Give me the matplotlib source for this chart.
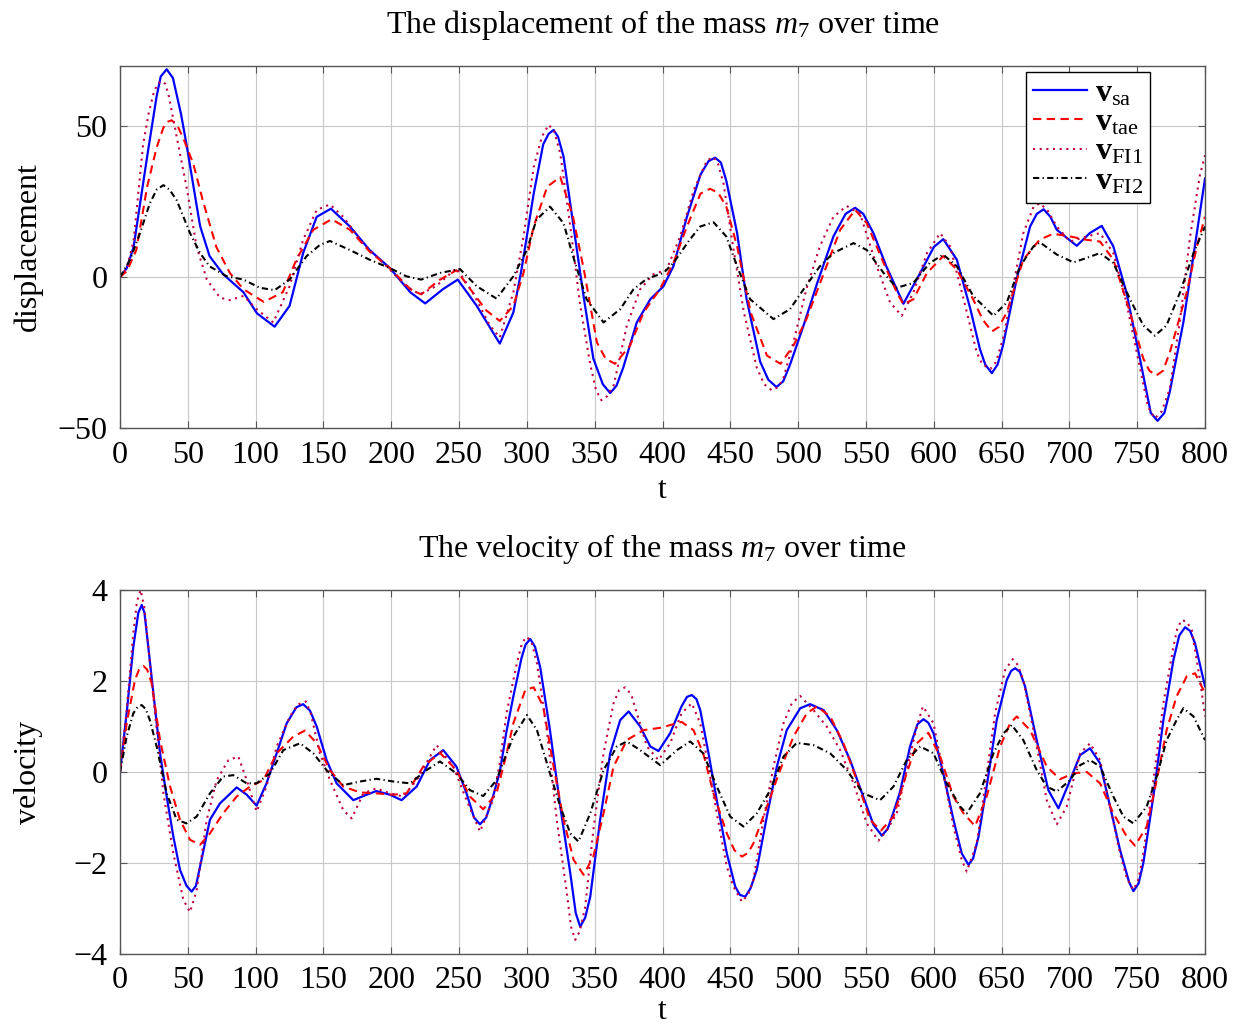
import numpy as np
import matplotlib
matplotlib.use("Agg")
import matplotlib.pyplot as plt

plt.rcParams['font.family'] = ['Liberation Serif', 'DejaVu Serif']
plt.rcParams['mathtext.fontset'] = 'custom'
plt.rcParams['mathtext.rm'] = 'Liberation Serif'
plt.rcParams['mathtext.it'] = 'Liberation Serif:italic'
plt.rcParams['mathtext.bf'] = 'Liberation Serif:bold'

# displacement of m7, (t, value)
disp_sa = [(0, 0), (5, 3), (10, 10), (20, 40), (27, 60), (30, 66.5), (34.4, 68.9), (39, 66), (45, 54), (49, 44),
           (59, 17), (66, 7), (76, 1), (91, -5), (101, -12), (114, -16.4), (125, -9.5), (135, 8), (145, 20),
           (155.5, 22.7), (169.5, 16.8), (184, 9), (199, 3), (214, -5), (225, -8.7), (238, -4), (249, -0.8),
           (263, -9.5), (280, -22), (290, -11.7), (296, 2.5), (305, 27.7), (312, 44), (316, 47.5), (319.7, 48.8),
           (323, 46.5), (327, 40), (334, 18), (342, -7), (349, -27), (356, -35.5), (361.4, -38.4), (366, -36),
           (371, -30), (381, -15), (391, -7.3), (400.7, -3), (408, 3.6), (418, 20), (428, 34), (434, 38.5),
           (438.8, 39.6), (443, 38), (447, 32), (455, 14.6), (462, -7.3), (472, -28), (478, -34), (484, -36.4),
           (489, -34.5), (494, -29), (504, -16), (514, -2), (526, 13.5), (535, 21), (542, 23), (548, 21),
           (555.5, 14.6), (565, 3.6), (577.6, -8.8), (590, 1.4), (600, 10), (607, 12.6), (617, 5.8), (627, -10.6),
           (634, -23.8), (638, -29), (642.8, -31.8), (647, -29), (651, -22.7), (661, -0.8), (671, 16.8),
           (676, 21), (681, 22.5), (686, 20), (690.7, 15.7), (705.4, 10.4), (715, 14.6), (723.8, 17), (732.4, 10.2),
           (742, -5), (752, -27), (760, -45), (765, -47.6), (770, -45), (774, -38), (784, -15), (791, 5.8),
           (800, 32.7)]
disp_tae = [(0, 0), (5, 2), (12, 9), (20, 30), (27, 43), (32, 49.6), (35, 51.5), (38, 52), (42, 50.5), (46.7, 46),
            (54, 37.6), (61, 25.5), (71, 10), (81, 1.4), (91, -4), (106, -8.2), (120, -5), (130, 5.8),
            (142.5, 15.7), (156, 19.2), (169.5, 15.7), (184, 8.5), (199, 3), (214, -4), (222, -5.7), (236, -0.8),
            (248, 2.3), (260, -5), (270, -11), (280, -14.5), (290, -9.5), (297.5, 1.4), (305, 16.8), (315, 30),
            (324.6, 33.2), (334, 20), (342, 2.5), (351.6, -21.6), (358, -27), (365, -28.7), (376, -22.7),
            (386, -11.7), (398, -4), (408, 4.7), (418, 16.8), (428, 27.7), (435, 29.3), (441, 28), (447, 23.4),
            (455, 10.2), (465, -11.7), (477, -26), (487, -28.7), (496.5, -22.7), (506, -14), (519, 1.4),
            (531, 15.7), (542, 22.3), (550.6, 17.9), (563, 4.7), (572.7, -5), (577.6, -9), (585, -7.3), (595, 1.4),
            (607, 7), (617, 2.5), (629, -7.3), (636, -14), (642.8, -18), (648, -16.5), (653.8, -11.7), (666, 5.8),
            (678, 12.4), (688, 14.4), (700.5, 13.5), (712.5, 12.4), (722.6, 11.8), (732.4, 5.8), (744.7, -11.7),
            (754.5, -27), (759, -31), (764, -32.6), (769, -31), (774, -25), (786.5, -5), (794, 10.2), (800, 20)]
disp_fi1 = [(0, 0), (5, 3), (10, 12), (17, 44), (21, 54), (24.5, 60.6), (27.5, 64), (30.7, 65), (33.5, 64),
            (36, 60), (42, 46), (49, 30), (56.5, 10), (64, -0.8), (73.7, -6.8), (81, -7.6), (91, -6.2),
            (100.7, -10.6), (113, -15), (125, -3), (135, 12.4), (145, 22.3), (154.8, 24.1), (164.6, 20),
            (179, 11.3), (199, 2.5), (211, -3), (221, -5.7), (233, -3), (248, 3), (260, -5), (272.7, -16),
            (280, -20), (290, -5), (297.5, 13.5), (305, 36.5), (311, 46.5), (316, 50.5), (320, 48.5), (324.6, 41),
            (332, 16.8), (339, -8.4), (346.7, -29), (351, -37.5), (355, -40.8), (359, -39.5), (364, -35.8),
            (373.7, -16), (383.5, -4), (393, 0.9), (403, 2.5), (413, 13.5), (423, 28.8), (432.7, 38.7),
            (437.6, 39.8), (441, 37.5), (445, 31), (452, 10.2), (460, -11.7), (469.5, -30), (475, -35.5),
            (480.6, -37.5), (485, -36.5), (489, -33.7), (496.5, -21.6), (506, -4), (516, 10.2), (526, 20),
            (535.8, 23.6), (545.7, 21), (558, 3.6), (567.8, -8.4), (576.4, -12.8), (585, -5), (595, 8),
            (604.7, 14.6), (612, 10.2), (622, -7.3), (631.7, -25), (636, -29), (641.8, -30.4), (646, -28),
            (651.6, -19.4), (659, -1.9), (666, 14.6), (673.6, 23.4), (678.4, 24.5), (684, 22), (690.7, 16.8),
            (700.5, 11.8), (712.8, 13.5), (722.6, 14.6), (732.4, 8), (742, -8.4), (752, -30), (758, -43),
            (763, -46.8), (768, -44.5), (774, -37), (781.6, -14), (789, 13.5), (796.3, 34), (800, 40.4)]
disp_fi2 = [(0, 0), (7.4, 5.8), (14.7, 14.6), (22, 24.5), (27, 29), (32, 30.5), (36.5, 29), (41.8, 25.5),
            (51.6, 14.6), (59, 8), (66, 3.6), (78.6, 0.3), (91, -0.8), (103, -3.5), (114, -4.3), (125, -0.8),
            (137.6, 7), (147.4, 10.7), (154.8, 12), (169.5, 9), (184, 5.8), (199, 3), (211, 0.3), (222, -0.8),
            (236, 1.4), (250.6, 2.7), (263, -3), (277.6, -7.1), (290, 0.3), (300, 9), (307, 19), (317, 23.4),
            (327, 17.9), (334, 7), (344, -7.3), (356.5, -15), (368.8, -10.6), (378.6, -4), (388.5, -0.5),
            (400.7, 1.4), (408, 4.7), (420, 12.4), (427.8, 16.8), (437.6, 18.2), (447, 13.5), (455, 3.6),
            (464.6, -7.3), (481.8, -13.9), (494, -10.6), (504, -4), (516, 3.6), (526, 8), (540.8, 11.3),
            (550.6, 9), (563, 1.4), (572.7, -3.5), (585, -1.9), (597, 4.7), (607, 7.5), (617, 3.6), (629, -6.2),
            (644, -12.8), (653.8, -8.4), (663.6, 3.6), (673.5, 10.2), (678.4, 11.5), (690.7, 7.5), (703, 4.9),
            (712.8, 6.4), (722.6, 8), (732.4, 4.7), (744.7, -7.3), (754.5, -16), (763, -19.4), (771.6, -16),
            (781.6, -5), (791.5, 8), (800, 16.8)]

# velocity of m7
vel_sa = [(0, 0), (4.9, 1.3), (9.8, 2.75), (13.5, 3.5), (16, 3.67), (18, 3.5), (19.7, 3.05), (24.6, 1.73),
          (29.5, 0.41), (34.4, -0.54), (39.3, -1.42), (44.2, -2.15), (49, -2.5), (52.8, -2.63), (56, -2.5),
          (59, -2.08), (66.3, -1.05), (73.7, -0.69), (86, -0.34), (93.4, -0.5), (100.7, -0.74), (108, -0.25),
          (115.5, 0.41), (122.9, 1.07), (130, 1.42), (135, 1.49), (140, 1.35), (145, 1.0), (152.3, 0.26),
          (159.7, -0.25), (172, -0.62), (181.8, -0.5), (189, -0.42), (199, -0.5), (207.6, -0.62), (218.7, -0.32),
          (228.5, 0.26), (238.3, 0.48), (248, 0.12), (255.5, -0.47), (261, -1.0), (265.4, -1.15), (270, -1.0),
          (275, -0.54), (280, 0.0), (285, 0.9), (290, 1.66), (296, 2.5), (299, 2.8), (302.5, 2.92), (306, 2.75),
          (309.8, 2.3), (317, 0.92), (324.6, -0.76), (332, -2.23), (336, -3.1), (339.3, -3.4), (343, -3.2),
          (346.7, -2.74), (354, -1.05), (361.4, 0.41), (368.8, 1.14), (375, 1.33), (383.5, 1.0), (391, 0.56),
          (397, 0.46), (405.6, 0.85), (414, 1.44), (418, 1.65), (421.6, 1.69), (425, 1.6), (427.8, 1.36),
          (433.9, 0.41), (440, -0.62), (447.4, -1.79), (453.6, -2.52), (457, -2.7), (461, -2.74), (465, -2.55),
          (469.5, -2.15), (476.9, -0.98), (484.3, 0.12), (491.6, 0.92), (501.5, 1.4), (508.8, 1.49),
          (518.7, 1.36), (528.5, 0.92), (538.3, 0.26), (548, -0.54), (555.5, -1.16), (561.7, -1.4), (566, -1.25),
          (570, -0.91), (575, -0.45), (582.5, 0.56), (588, 1.05), (592.4, 1.16), (596, 1.08), (599.8, 0.85),
          (607, -0.03), (614.5, -1.05), (620.6, -1.79), (625.6, -2.04), (629, -1.9), (633, -1.42), (639, -0.32),
          (646.4, 1.14), (653.8, 2.02), (657, 2.22), (660, 2.28), (663.5, 2.2), (667.3, 1.88), (675.9, 0.7),
          (684.5, -0.4), (691.9, -0.8), (700.5, -0.18), (707.9, 0.37), (715.2, 0.52), (722.6, 0.19), (730, -0.76),
          (737.3, -1.71), (744, -2.42), (747.2, -2.62), (751, -2.45), (754.5, -2.0), (761.9, -0.54),
          (769.3, 1.14), (776.7, 2.46), (781, 3.0), (785.3, 3.18), (789, 3.1), (792.6, 2.83), (800, 1.88)]
vel_tae = [(0, 0), (4.9, 1.07), (11, 2.02), (14, 2.25), (17.2, 2.33), (20, 2.25), (23.3, 1.95), (29.5, 0.7),
           (36.9, -0.32), (44.2, -1.05), (51.6, -1.49), (59, -1.6), (66.3, -1.35), (76, -0.91), (86, -0.54),
           (95.8, -0.32), (105.7, -0.18), (115.5, 0.41), (127.8, 0.78), (136.4, 0.91), (145, 0.63), (154.8, 0.04),
           (164.6, -0.32), (177, -0.45), (189, -0.47), (201.5, -0.5), (211.3, -0.47), (223.6, 0.12),
           (235.9, 0.42), (248, 0.04), (258, -0.54), (267.8, -0.82), (277.6, -0.47), (285, 0.4), (290, 1.07),
           (298.8, 1.8), (305, 1.86), (312, 1.44), (319.7, 0.12), (327, -1.05), (334.4, -1.93), (341.8, -2.26),
           (349, -1.86), (356.5, -0.91), (363.9, 0.12), (373.7, 0.7), (386, 0.92), (398.3, 0.97), (408, 1.05),
           (414, 1.1), (422.8, 0.92), (430, 0.41), (437.6, -0.47), (447.4, -1.35), (453, -1.72), (458.5, -1.86),
           (463, -1.78), (467, -1.57), (477, -0.76), (486.7, 0.04), (496.6, 0.78), (506.4, 1.29), (513.8, 1.44),
           (523.6, 1.22), (533.4, 0.63), (543.2, -0.18), (553, -1.05), (561, -1.29), (570.3, -0.98), (580, -0.03),
           (587.5, 0.63), (596, 0.86), (604.7, 0.34), (614.5, -0.54), (621.9, -0.91), (630.5, -1.19), (639, -0.54),
           (648.9, 0.56), (656.3, 1.07), (661.2, 1.22), (671, 0.92), (683.3, 0.12), (693, -0.16), (703, -0.03),
           (712.8, 0.0), (722.6, -0.25), (732.4, -0.91), (742.3, -1.42), (748.4, -1.62), (757, -1.2),
           (764.4, -0.18), (771.7, 0.92), (779, 1.66), (786.5, 2.1), (792.6, 2.17), (800, 1.73)]
vel_fi1 = [(0, 0), (4.9, 1.36), (9.8, 3.05), (12.5, 3.75), (15.2, 4.0), (18, 3.6), (20.9, 2.75), (25.8, 1.29),
           (32, -0.47), (39.3, -1.79), (46.7, -2.81), (51.6, -3.08), (56.5, -2.6), (63.9, -1.05), (71.3, -0.18),
           (79.9, 0.26), (87.2, 0.34), (93.4, -0.18), (100.7, -0.87), (108, -0.32), (115.5, 0.56), (125.3, 1.22),
           (131, 1.48), (137, 1.55), (140.5, 1.3), (147.4, 0.41), (154.8, -0.18), (164.6, -0.84), (170.8, -1.02),
           (179.4, -0.47), (189, -0.36), (199, -0.47), (208.8, -0.54), (218.7, -0.18), (233.4, 0.59),
           (245.7, 0.12), (255.5, -0.62), (265.4, -1.31), (275, -0.62), (280, 0.2), (285, 1.29), (292.6, 2.39),
           (296.5, 2.85), (300, 2.97), (303.5, 2.85), (307.4, 2.39), (314.7, 0.92), (322, -1.05), (329.5, -2.67),
           (332.5, -3.4), (335.6, -3.69), (339, -3.5), (343, -2.96), (349, -1.27), (356.5, 0.41), (363.9, 1.51),
           (368, 1.8), (372.5, 1.86), (377, 1.7), (381, 1.29), (388.5, 0.56), (397, 0.26), (405.6, 0.63),
           (414, 1.29), (421.6, 1.51), (427.8, 1.07), (433.9, 0.12), (440, -0.91), (447.4, -2.08), (452.3, -2.52),
           (458.5, -2.85), (463, -2.7), (467, -2.37), (474.4, -1.05), (481.8, 0.12), (489.2, 1.07), (495.3, 1.51),
           (501.5, 1.67), (511.3, 1.36), (521, 1.0), (531, 0.48), (540.8, -0.25), (550.6, -1.13), (559.2, -1.51),
           (565, -1.3), (572.7, -0.91), (580, 0.04), (587.5, 1.0), (592, 1.44), (599.8, 1.07), (607, -0.03),
           (614.5, -1.2), (620.6, -1.93), (624.3, -2.19), (631.7, -1.57), (637.8, -0.32), (645.2, 1.29),
           (652.6, 2.24), (658.2, 2.48), (662, 2.35), (666, 2.02), (675.9, 0.56), (683.3, -0.62), (690.7, -1.15),
           (698, -0.76), (707.9, 0.41), (715.2, 0.63), (722.6, 0.26), (730, -0.76), (737.3, -1.79),
           (742.5, -2.35), (747.2, -2.59), (751, -2.35), (754.5, -1.79), (761.9, -0.18), (769.3, 1.51),
           (776.7, 2.75), (779.5, 3.15), (782.8, 3.34), (786.5, 3.3), (790.2, 3.12), (796.3, 2.02), (800, 1.22)]
vel_fi2 = [(0, 0), (4.9, 0.78), (9.8, 1.29), (13, 1.43), (16, 1.47), (19, 1.38), (22, 1.14), (27, 0.56),
           (34.4, -0.47), (41.8, -1.05), (49, -1.13), (56.5, -0.98), (66.3, -0.47), (76, -0.1), (83.5, -0.07),
           (93.4, -0.25), (100.7, -0.25), (110.6, -0.03), (120.4, 0.48), (132.7, 0.63), (142.5, 0.41),
           (152.3, 0.04), (164.6, -0.29), (177, -0.21), (189, -0.15), (201.5, -0.21), (213.8, -0.25), (226, 0.04),
           (235.9, 0.23), (248, -0.03), (258, -0.4), (267.8, -0.53), (277.6, -0.18), (283, 0.25), (290, 0.78),
           (300, 1.25), (307.4, 0.92), (317, -0.03), (324.6, -0.76), (332, -1.35), (338, -1.53), (346.7, -0.91),
           (356.5, 0.04), (366.3, 0.56), (373.7, 0.67), (383.5, 0.48), (398.3, 0.15), (410.6, 0.48),
           (420.4, 0.67), (430, 0.41), (440, -0.32), (449.9, -0.98), (459.7, -1.2), (469.5, -0.91), (479.4, -0.4),
           (489.2, 0.34), (499, 0.64), (511.3, 0.59), (523.6, 0.41), (535.9, 0.04), (548, -0.47), (560.4, -0.62),
           (570.3, -0.32), (580, 0.26), (590, 0.56), (599.8, 0.41), (609.6, -0.25), (619.4, -0.76), (624.3, -0.91),
           (634, -0.47), (644, 0.41), (651.4, 0.85), (657.5, 1.03), (666, 0.7), (675.9, 0.04), (683.3, -0.32),
           (690.7, -0.43), (700.5, -0.18), (707.9, 0.15), (715.2, 0.26), (722.6, 0.12), (732.4, -0.54),
           (739.8, -0.98), (747.2, -1.13), (757, -0.76), (764.4, -0.1), (771.7, 0.7), (779, 1.14), (784, 1.4),
           (791.5, 1.22), (800, 0.7)]

labels = [r'$\mathbf{v}_{\mathrm{sa}}$', r'$\mathbf{v}_{\mathrm{tae}}$',
          r'$\mathbf{v}_{\mathrm{FI1}}$', r'$\mathbf{v}_{\mathrm{FI2}}$']
styles = [dict(color='blue', linestyle='-', lw=1.6),
          dict(color='red', dashes=(4, 2.6), lw=1.5),
          dict(color=(0.75, 0, 0.25), dashes=(1, 2.2), lw=1.5),
          dict(color='black', dashes=(3, 1.6, 0.6, 1.6), lw=1.5)]

FS = 23

fig = plt.figure(figsize=(12.4, 10.26), dpi=100)
ax1 = fig.add_axes([0.0968, 0.5828, 0.875, 0.3529])
ax2 = fig.add_axes([0.0968, 0.0702, 0.875, 0.3548])

for ax, series in [(ax1, [disp_sa, disp_tae, disp_fi1, disp_fi2]),
                   (ax2, [vel_sa, vel_tae, vel_fi1, vel_fi2])]:
    for s, lab, st in zip(series, labels, styles):
        d = np.array(s)
        ax.plot(d[:, 0], d[:, 1], label=lab, **st)
    ax.set_xlim(0, 800)
    ax.set_xticks(np.arange(0, 801, 50))
    ax.grid(True, color='#c8c8c8', lw=0.8)
    ax.set_axisbelow(True)
    ax.tick_params(direction='in', top=True, right=True, labelsize=FS, length=5,
                   color='#555555', pad=9)
    for sp in ax.spines.values():
        sp.set_color('#555555')
        sp.set_linewidth(1.0)
    ax.yaxis.set_label_coords(-0.071, 0.5)

ax1.set_ylim(-50, 70)
ax1.set_yticks([-50, 0, 50])
ax1.set_xlabel('t', fontsize=FS, labelpad=5)
ax1.set_ylabel('displacement', fontsize=FS)
ax1.set_title(r'The displacement of the mass $m_7$ over time', fontsize=FS, pad=24)
ax1.legend(loc='upper right', bbox_to_anchor=(0.949, 0.982), fontsize=FS, fancybox=False,
           edgecolor='black', framealpha=1, handlelength=1.7, borderpad=0.2, labelspacing=0.0,
           handletextpad=0.25, borderaxespad=0)

ax2.set_ylim(-4, 4)
ax2.set_yticks([-4, -2, 0, 2, 4])
ax2.set_xlabel('t', fontsize=FS, labelpad=1)
ax2.set_ylabel('velocity', fontsize=FS)
ax2.set_title(r'The velocity of the mass $m_7$ over time', fontsize=FS, pad=24)

plt.savefig('out.png', dpi=100)
